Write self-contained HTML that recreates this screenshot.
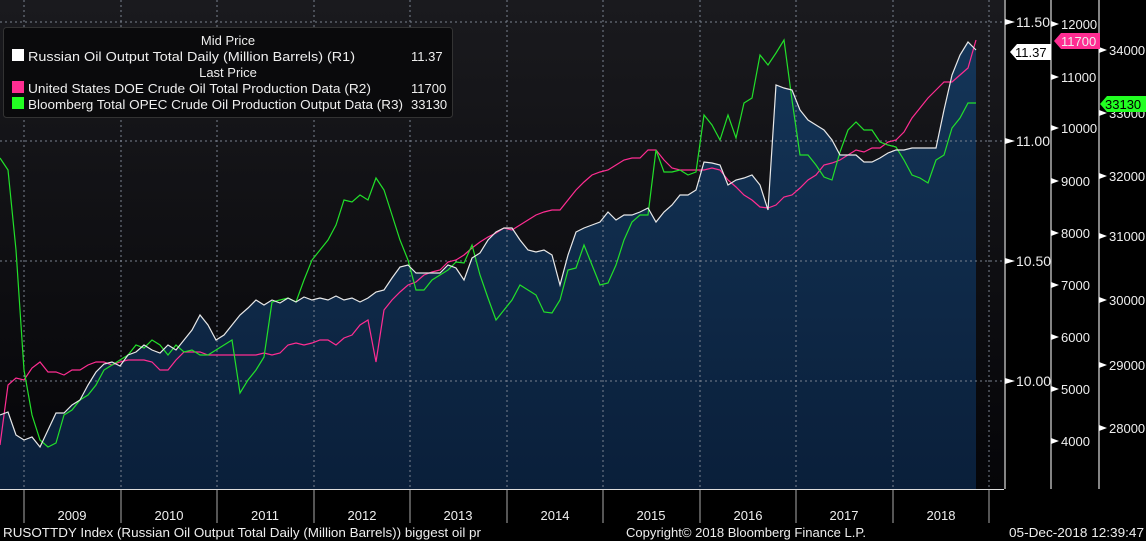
<!DOCTYPE html>
<html><head><meta charset="utf-8"><style>
html,body{margin:0;padding:0;background:#000;width:1146px;height:541px;overflow:hidden}
svg{display:block}
text{font-family:"Liberation Sans",sans-serif;font-size:13px;fill:#eee}
</style></head><body>
<svg width="1146" height="541" viewBox="0 0 1146 541">
<defs>
<linearGradient id="bg" x1="0" y1="0" x2="0" y2="1"><stop offset="0" stop-color="#1a1a1e"/><stop offset="1" stop-color="#050508"/></linearGradient>
<linearGradient id="fill" x1="0" y1="0" x2="0" y2="1"><stop offset="0" stop-color="#143558"/><stop offset="1" stop-color="#0a1f3a"/></linearGradient>
</defs>
<rect x="0" y="0" width="1004" height="489" fill="url(#bg)"/>
<polygon fill="url(#fill)" points="0,489 0,415 8,412 16,435 24,440 32,437 40,447 48,430 56,413 64,413 72,405 80,400 88,385 96,372 104,364 112,362 120,366 128,355 136,352 144,345 152,350 160,353 168,345 176,350 184,340 192,330 200,315 208,325 216,340 224,335 232,325 240,315 248,308 256,300 264,305 272,300 280,303 288,298 296,302 304,297 312,300 320,298 328,300 336,296 344,300 352,298 360,302 368,298 376,292 384,290 392,278 400,267 408,265 416,273 424,273 432,273 440,273 448,265 456,268 464,280 472,258 480,253 488,240 496,232 504,228 512,228 520,240 528,250 536,252 544,250 552,255 560,285 568,255 576,232 584,228 592,225 600,222 608,212 616,220 624,215 632,215 640,212 648,208 656,222 664,212 672,205 680,195 688,195 696,190 704,162 712,163 720,165 728,185 736,180 744,178 752,175 760,185 768,210 776,85 784,88 792,90 800,110 808,120 816,125 824,130 832,140 840,155 848,155 856,155 864,162 872,162 880,158 888,153 896,150 904,150 912,148 920,148 928,148 936,148 944,110 952,75 960,55 968,42 976,50 976,489"/>
<g stroke="#7a8290" stroke-width="1" stroke-dasharray="2,3" fill="none">
<line x1="0" y1="22" x2="1004" y2="22"/><line x1="0" y1="141" x2="1004" y2="141"/><line x1="0" y1="261" x2="1004" y2="261"/><line x1="0" y1="381" x2="1004" y2="381"/>
<line x1="24" y1="0" x2="24" y2="489"/><line x1="121" y1="0" x2="121" y2="489"/><line x1="217" y1="0" x2="217" y2="489"/><line x1="314" y1="0" x2="314" y2="489"/><line x1="410" y1="0" x2="410" y2="489"/><line x1="507" y1="0" x2="507" y2="489"/><line x1="603" y1="0" x2="603" y2="489"/><line x1="700" y1="0" x2="700" y2="489"/><line x1="796" y1="0" x2="796" y2="489"/><line x1="893" y1="0" x2="893" y2="489"/><line x1="989" y1="0" x2="989" y2="489"/>
</g>
<polyline fill="none" stroke="#ff2d92" stroke-width="1.2" points="0,445 8,385 16,378 24,380 32,368 40,362 48,372 56,372 64,375 72,370 80,370 88,365 96,362 104,362 112,365 120,362 128,360 136,360 144,360 152,362 160,370 168,370 176,360 184,352 192,352 200,352 208,355 216,355 224,355 232,355 240,355 248,355 256,355 264,353 272,355 280,353 288,345 296,343 304,345 312,343 320,340 328,340 336,345 344,338 352,335 360,325 368,320 376,362 384,310 392,300 400,292 408,285 416,282 424,275 432,272 440,270 448,262 456,260 464,255 472,248 480,242 488,237 496,233 504,228 512,230 520,225 528,220 536,215 544,212 552,210 560,210 568,200 576,190 584,182 592,175 600,172 608,170 616,165 624,160 632,158 640,158 648,150 656,150 664,160 672,168 680,170 688,170 696,170 704,170 712,168 720,170 728,180 736,187 744,195 752,200 760,207 768,208 776,205 784,197 792,195 800,188 808,180 816,175 824,165 832,163 840,160 848,155 856,150 864,152 872,148 880,148 888,142 896,140 904,132 912,118 920,108 928,98 936,90 944,82 952,82 960,75 968,68 976,40"/>
<polyline fill="none" stroke="#22e02a" stroke-width="1.2" points="0,158 8,170 16,250 24,370 32,415 40,440 48,447 56,443 64,415 72,410 80,400 88,395 96,385 104,370 112,365 120,360 128,355 136,345 144,348 152,340 160,345 168,355 176,345 184,352 192,350 200,355 208,355 216,350 224,345 232,340 240,393 248,380 256,370 264,357 272,302 280,300 288,298 296,302 304,280 312,260 320,250 328,240 336,225 344,200 352,202 360,195 368,200 376,178 384,190 392,215 400,240 408,260 416,290 424,290 432,280 440,275 448,270 456,262 464,263 472,245 480,275 488,298 496,320 504,310 512,300 520,285 528,290 536,295 544,312 552,313 560,300 568,270 576,268 584,245 592,265 600,285 608,283 616,265 624,240 632,222 640,215 648,215 656,150 664,172 672,172 680,170 688,175 696,172 704,115 712,125 720,140 728,115 736,138 744,103 752,98 760,55 768,65 776,53 784,40 792,100 800,155 808,155 816,165 824,177 832,180 840,152 848,130 856,122 864,130 872,130 880,142 888,145 896,147 904,160 912,175 920,178 928,183 936,160 944,155 952,128 960,118 968,103 976,103"/>
<polyline fill="none" stroke="#e8e8e8" stroke-width="1.2" points="0,415 8,412 16,435 24,440 32,437 40,447 48,430 56,413 64,413 72,405 80,400 88,385 96,372 104,364 112,362 120,366 128,355 136,352 144,345 152,350 160,353 168,345 176,350 184,340 192,330 200,315 208,325 216,340 224,335 232,325 240,315 248,308 256,300 264,305 272,300 280,303 288,298 296,302 304,297 312,300 320,298 328,300 336,296 344,300 352,298 360,302 368,298 376,292 384,290 392,278 400,267 408,265 416,273 424,273 432,273 440,273 448,265 456,268 464,280 472,258 480,253 488,240 496,232 504,228 512,228 520,240 528,250 536,252 544,250 552,255 560,285 568,255 576,232 584,228 592,225 600,222 608,212 616,220 624,215 632,215 640,212 648,208 656,222 664,212 672,205 680,195 688,195 696,190 704,162 712,163 720,165 728,185 736,180 744,178 752,175 760,185 768,210 776,85 784,88 792,90 800,110 808,120 816,125 824,130 832,140 840,155 848,155 856,155 864,162 872,162 880,158 888,153 896,150 904,150 912,148 920,148 928,148 936,148 944,110 952,75 960,55 968,42 976,50"/>
<!-- legend -->
<rect x="3.5" y="27.5" width="449" height="90" rx="3" fill="#0a0a0c" stroke="#333" />
<text x="228" y="45" text-anchor="middle">Mid Price</text>
<rect x="12" y="49" width="12" height="12" fill="#fff"/>
<text x="28" y="61" textLength="327" lengthAdjust="spacingAndGlyphs">Russian Oil Output Total Daily (Million Barrels)  (R1)</text>
<text x="411" y="61">11.37</text>
<text x="228" y="77" text-anchor="middle">Last Price</text>
<rect x="12" y="81" width="12" height="12" fill="#ff2d92"/>
<text x="28" y="93" textLength="343" lengthAdjust="spacingAndGlyphs">United States DOE Crude Oil Total Production Data  (R2)</text>
<text x="411" y="93">11700</text>
<rect x="12" y="97" width="12" height="12" fill="#22ff22"/>
<text x="28" y="109" textLength="375" lengthAdjust="spacingAndGlyphs">Bloomberg Total OPEC Crude Oil Production Output Data  (R3)</text>
<text x="411" y="109">33130</text>
<!-- right axes -->
<g stroke="#ddd" stroke-width="1.2"><line x1="1005" y1="0" x2="1005" y2="489"/><line x1="1051" y1="0" x2="1051" y2="489"/><line x1="1099" y1="0" x2="1099" y2="489"/></g>
<g fill="#fff">
<polygon points="1005,19 1015,22 1005,25"/><polygon points="1005,138 1015,141 1005,144"/><polygon points="1005,258 1015,261 1005,264"/><polygon points="1005,378 1015,381 1005,384"/>
<polygon points="1051,21 1059,24 1051,27"/><polygon points="1051,74 1059,77 1051,80"/><polygon points="1051,125 1059,128 1051,131"/><polygon points="1051,178 1059,181 1051,184"/><polygon points="1051,230 1059,233 1051,236"/><polygon points="1051,282 1059,285 1051,288"/><polygon points="1051,334 1059,337 1051,340"/><polygon points="1051,386 1059,389 1051,392"/><polygon points="1051,438 1059,441 1051,444"/>
<polygon points="1099,47 1107,50 1099,53"/><polygon points="1099,110 1107,113 1099,116"/><polygon points="1099,173 1107,176 1099,179"/><polygon points="1099,233 1107,236 1099,239"/><polygon points="1099,297 1107,300 1099,303"/><polygon points="1099,362 1107,365 1099,368"/><polygon points="1099,425 1107,428 1099,431"/>
</g>
<g font-size="14"><text x="1016" y="27" style="font-size:14px">11.50</text><text x="1016" y="146" style="font-size:14px">11.00</text><text x="1016" y="266" style="font-size:14px">10.50</text><text x="1016" y="386" style="font-size:14px">10.00</text>
<text x="1061" y="29">12000</text><text x="1061" y="82">11000</text><text x="1061" y="133">10000</text><text x="1061" y="186">9000</text><text x="1061" y="238">8000</text><text x="1061" y="290">7000</text><text x="1061" y="342">6000</text><text x="1061" y="394">5000</text><text x="1061" y="446">4000</text>
<text x="1109" y="55">34000</text><text x="1109" y="118">33000</text><text x="1109" y="181">32000</text><text x="1109" y="241">31000</text><text x="1109" y="305">30000</text><text x="1109" y="370">29000</text><text x="1109" y="433">28000</text></g>
<polygon points="1010,52 1017,44 1051,44 1051,60 1017,60" fill="#fff"/><text x="1015" y="57" style="fill:#000">11.37</text>
<polygon points="1054,41 1061,33 1100,33 1100,49 1061,49" fill="#ff2d92"/><text x="1061" y="46">11700</text>
<polygon points="1100,104 1107,96 1146,96 1146,112 1107,112" fill="#22ff22"/><text x="1105" y="109" style="fill:#000">33130</text>
<!-- bottom axis -->
<line x1="0" y1="489.5" x2="1004" y2="489.5" stroke="#ddd"/>
<g stroke="#aaa"><line x1="24" y1="490" x2="24" y2="523"/><line x1="121" y1="490" x2="121" y2="523"/><line x1="217" y1="490" x2="217" y2="523"/><line x1="314" y1="490" x2="314" y2="523"/><line x1="410" y1="490" x2="410" y2="523"/><line x1="507" y1="490" x2="507" y2="523"/><line x1="603" y1="490" x2="603" y2="523"/><line x1="700" y1="490" x2="700" y2="523"/><line x1="796" y1="490" x2="796" y2="523"/><line x1="893" y1="490" x2="893" y2="523"/><line x1="989" y1="490" x2="989" y2="523"/></g>
<g text-anchor="middle"><text x="72" y="520">2009</text><text x="169" y="520">2010</text><text x="265" y="520">2011</text><text x="362" y="520">2012</text><text x="458" y="520">2013</text><text x="555" y="520">2014</text><text x="651" y="520">2015</text><text x="748" y="520">2016</text><text x="844" y="520">2017</text><text x="941" y="520">2018</text></g>
<text x="3" y="537" textLength="478" lengthAdjust="spacingAndGlyphs">RUSOTTDY Index (Russian Oil Output Total Daily (Million Barrels)) biggest oil pr</text>
<text x="626" y="537" textLength="240" lengthAdjust="spacingAndGlyphs">Copyright© 2018 Bloomberg Finance L.P.</text>
<text x="1009" y="537" textLength="135" lengthAdjust="spacingAndGlyphs">05-Dec-2018 12:39:47</text>
</svg>
</body></html>
